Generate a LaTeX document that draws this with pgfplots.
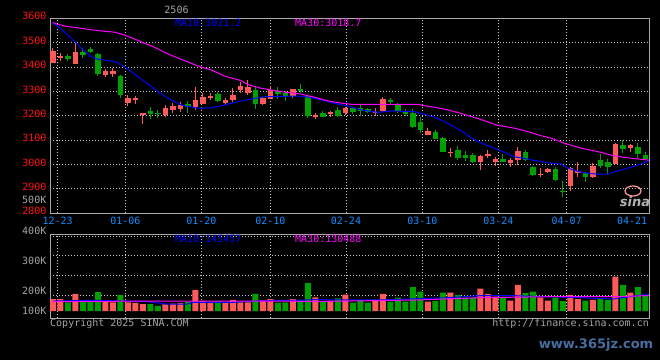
\documentclass[border=0pt]{standalone}
\usepackage{pgfplots}
\pgfplotsset{compat=1.18}
\usepackage{pgfplotstable}
\usepackage{fontspec}
\newfontfamily\sinafont{DejaVu Sans Mono}
\newfontfamily\wmfont{DejaVu Sans}
\newcommand{\st}{\sinafont\fontsize{10}{12}\selectfont}
\definecolor{cRed}{RGB}{255,90,90}
\definecolor{cGreen}{RGB}{0,160,0}
\definecolor{cBlue}{RGB}{0,0,255}
\definecolor{cMag}{RGB}{255,0,255}
\definecolor{cGrid}{RGB}{200,200,200}
\definecolor{cBorder}{RGB}{170,170,170}
\definecolor{cText}{RGB}{165,165,165}
\definecolor{cDate}{RGB}{20,140,255}
\definecolor{cPrice}{RGB}{255,20,20}
\definecolor{cWM}{RGB}{70,110,160}

\pgfplotstableread{
i o h l c
0 3418 3477 3416 3467
1 3440 3459 3426 3444
3 3412 3500 3412 3463
7 3367 3390 3358 3385
8 3372 3395 3358 3385
10 3254 3285 3241 3272
11 3267 3283 3247 3271
12 3203 3213 3166 3210
15 3205 3244 3196 3231
16 3222 3252 3213 3240
17 3228 3257 3215 3246
19 3238 3320 3224 3265
20 3248 3292 3248 3276
21 3275 3295 3265 3280
23 3253 3275 3244 3263
24 3264 3313 3258 3285
25 3305 3340 3292 3323
26 3293 3347 3285 3318
28 3249 3279 3244 3272
29 3269 3323 3268 3305
32 3283 3311 3275 3309
35 3198 3210 3186 3202
37 3206 3221 3194 3214
39 3210 3237 3205 3230
43 3213 3233 3200 3217
44 3218 3278 3215 3269
50 3122 3152 3120 3138
53 3048 3066 3032 3053
57 3010 3040 2977 3035
58 3037 3060 3025 3043
59 3009 3030 2993 3024
61 3005 3026 2990 3020
62 3020 3070 2998 3057
65 2958 2985 2948 2963
66 2970 2985 2966 2981
69 2914 2991 2890 2985
70 2969 3012 2950 2974
72 2950 3005 2945 2995
75 3003 3090 3002 3084
77 3067 3083 3050 3080
}\upc

\pgfplotstableread{
i o h l c
2 3447 3454 3426 3433
4 3463 3477 3438 3449
5 3474 3484 3456 3463
6 3454 3458 3363 3371
9 3364 3368 3272 3285
13 3219 3237 3186 3206
14 3213 3224 3192 3207
18 3248 3262 3210 3235
22 3290 3297 3258 3262
27 3306 3317 3228 3250
30 3300 3317 3268 3290
31 3295 3303 3262 3281
33 3308 3330 3292 3303
34 3280 3285 3192 3200
36 3213 3221 3194 3196
38 3224 3237 3196 3199
40 3231 3237 3206 3217
41 3233 3244 3200 3220
42 3228 3230 3212 3216
45 3266 3272 3248 3259
46 3248 3252 3213 3218
47 3221 3228 3200 3207
48 3211 3228 3149 3155
49 3173 3195 3130 3142
51 3135 3140 3103 3105
52 3110 3115 3050 3053
54 3060 3077 3019 3028
55 3041 3054 3015 3028
56 3038 3046 3005 3012
60 3022 3042 3009 3012
63 3052 3060 3015 3018
64 2991 2993 2952 2957
67 2980 2990 2933 2937
68 2893 2934 2868 2888
71 2964 2971 2930 2948
73 3019 3044 2985 2994
74 3009 3021 2960 2991
76 3079 3100 3046 3065
78 3071 3087 3027 3043
79 3039 3053 3020 3023
}\downc

\pgfplotstableread{
i v
0 100
1 100
3 142
7 86
8 72
10 72
11 67
12 58
15 56
16 61
17 67
19 175
20 83
21 78
23 72
24 92
25 72
26 72
28 89
29 100
32 100
35 114
37 86
39 136
43 92
44 142
50 78
53 153
57 186
58 142
59 119
61 86
62 217
65 111
66 86
69 133
70 100
72 92
75 286
77 153
}\upv

\pgfplotstableread{
i v
2 72
4 78
5 78
6 158
9 133
13 58
14 42
18 75
22 83
27 142
30 69
31 72
33 89
34 233
36 83
38 106
40 69
41 92
42 69
45 78
46 111
47 78
48 200
49 161
51 83
52 153
54 133
55 111
56 111
60 117
63 150
64 161
67 111
68 83
71 86
73 100
74 92
76 217
78 200
79 139
}\downv

\pgfplotsset{
  sinabase/.style={
    scale only axis, anchor=south west,
    xmin=-0.373, xmax=79.49,
    axis line style={draw=cBorder, line width=1pt},
    major tick length=0pt,
    grid=major,
    major grid style={draw=cGrid, line width=0.9pt, dash pattern=on 1pt off 2pt},
    xtick={0.65,9.67,19.8,29.0,39.09,49.27,59.4,68.52},
    tick label style={font=\st},
    clip=true,
  },
  wick/.style={draw=none, mark=none, forget plot,
    error bars/.cd, y dir=both, y explicit, error mark=none,
    error bar style={draw=#1, line width=1pt}},
  body/.style={draw=none, mark=none, forget plot,
    error bars/.cd, y dir=both, y explicit, error mark=none,
    error bar style={draw=#1, line width=5.5pt}},
}

\begin{document}
\begin{tikzpicture}
\useasboundingbox (0,0) rectangle (660pt,360pt);
\fill[black] (0,0) rectangle (660pt,360pt);

\begin{axis}[sinabase,
  at={(50pt,146.7pt)}, width=599pt, height=195pt,
  ymin=2800, ymax=3600,
  xticklabels={12-23,01-06,01-20,02-10,02-24,03-10,03-24,04-07},
  extra x ticks={77.23}, extra x tick labels={04-21},
  extra x tick style={grid=none},
  x tick label style={text=cDate},
  ytick={2800,2900,3000,3100,3200,3300,3400,3500,3600},
  yticklabels={2800,2900,3000,3100,3200,3300,3400,3500,3600},
  y tick label style={text=cPrice, yshift=2pt},
]
\addplot[wick=cRed] table[x=i, y expr={(\thisrow{h}+\thisrow{l})/2}, y error expr={(\thisrow{h}-\thisrow{l})/2}] {\upc};
\addplot[body=cRed] table[x=i, y expr={(\thisrow{o}+\thisrow{c})/2}, y error expr={abs(\thisrow{c}-\thisrow{o})/2}] {\upc};
\addplot[wick=cGreen] table[x=i, y expr={(\thisrow{h}+\thisrow{l})/2}, y error expr={(\thisrow{h}-\thisrow{l})/2}] {\downc};
\addplot[body=cGreen] table[x=i, y expr={(\thisrow{o}+\thisrow{c})/2}, y error expr={abs(\thisrow{c}-\thisrow{o})/2}] {\downc};
\addplot[cBlue, line width=1pt, mark=none] coordinates {
(0,3582) (1.13,3556) (2.47,3518) (3.8,3477) (5.13,3442) (6.03,3432) (7.8,3425) (8.69,3418)
(10.03,3391) (11.36,3360) (12.69,3330) (14.03,3299) (15.36,3272) (17.13,3244) (19.36,3231)
(21.13,3233) (22.92,3244) (24.69,3258) (26.47,3269) (28.07,3278) (30.73,3280) (32.7,3281)
(34.03,3277) (35.8,3265) (37.59,3251) (39.36,3240) (41.13,3224) (43.36,3214) (45.13,3220)
(48.25,3217) (49.59,3206) (50.92,3194) (52.25,3176) (53.23,3159) (54.47,3138) (56.25,3101)
(58.03,3077) (59.8,3056) (61.59,3032) (63.36,3022) (65.13,3012) (66.56,3005) (67.8,3002)
(68.69,2985) (70.47,2968) (72.69,2960) (74.03,2961) (74.92,2971) (77.13,2989) (78.92,3008)
(79.49,3018)};
\addplot[cMag, line width=1pt, mark=none] coordinates {
(0,3583) (0.69,3575) (2.03,3566) (3.36,3561) (4.69,3555) (6.47,3548) (8.25,3543) (9.59,3531)
(10.92,3515) (12.25,3497) (13.23,3486) (15.19,3456) (19.63,3401) (21.13,3388) (22.92,3363)
(25.13,3344) (26,3328) (27.8,3313) (30.47,3299) (33.13,3289) (34.92,3276) (36.69,3261)
(38.47,3252) (39.89,3247) (48.7,3247) (49.59,3241) (50.92,3235) (52.25,3227) (53.23,3220)
(54.73,3207) (56.96,3186) (59.19,3162) (61.59,3149) (63.36,3135) (65.13,3118) (66.47,3108)
(68.25,3087) (70.47,3067) (72.69,3053) (74.92,3035) (77.13,3026) (79.49,3018)};
\end{axis}

\begin{axis}[sinabase,
  at={(50pt,41.7pt)}, width=599pt, height=84pt,
  ymin=-60.8, ymax=639.2,
  xticklabels={},
  ytick={131,300,467,625}, yticklabels={},
]
\addplot[ybar, bar width=6pt, bar shift=0pt, fill=cRed, draw=none, forget plot] table[x=i, y=v] {\upv};
\addplot[ybar, bar width=6pt, bar shift=0pt, fill=cGreen, draw=none, forget plot] table[x=i, y=v] {\downv};
\addplot[cBlue, line width=1pt, mark=none] coordinates {
(0,83) (5.4,89) (12.6,78) (15.2,58) (17.9,58) (18.7,72) (24,72) (26.7,83) (33.9,92) (35.6,97)
(37,92) (43.6,92) (47.6,100) (52.5,111) (57,128) (61.4,128) (65.9,119) (70.3,111) (74.7,100)
(77,119) (79.49,142)};
\addplot[cMag, line width=1pt, mark=none] coordinates {
(0,78) (12.6,83) (37,81) (48.6,92) (57,111) (65.9,119) (74.7,119) (79.49,128)};
\end{axis}

% texts
\node[text=cText, font=\st] at (176.5pt,350.5pt) {2506};
\node[anchor=west, inner sep=0pt, text=cBlue, font=\st] at (175pt,336.7pt) {MA10:3021.2};
\node[anchor=west, inner sep=0pt, text=cMag, font=\st] at (295pt,336.7pt) {MA30:3018.7};
\node[anchor=west, inner sep=0pt, text=cBlue, font=\st] at (175pt,121.3pt) {MA10:145457};
\node[anchor=west, inner sep=0pt, text=cMag, font=\st] at (295pt,121.3pt) {MA30:130488};
\node[anchor=east, inner sep=0pt, text=cText, font=\st] at (46.5pt,160pt) {500K};
\node[anchor=east, inner sep=0pt, text=cText, font=\st] at (46.5pt,129.3pt) {400K};
\node[anchor=east, inner sep=0pt, text=cText, font=\st] at (46.5pt,99.3pt) {300K};
\node[anchor=east, inner sep=0pt, text=cText, font=\st] at (46.5pt,69.3pt) {200K};
\node[anchor=east, inner sep=0pt, text=cText, font=\st] at (46.5pt,49pt) {100K};
\node[anchor=west, inner sep=0pt, text=cText, font=\st] at (50pt,36.3pt) {Copyright 2025 SINA.COM};
\node[anchor=east, inner sep=0pt, text=cText, font=\st] at (649pt,36.3pt) {http://finance.sina.com.cn};
\draw[draw=red!40!white, line width=1.2pt] (633pt,169pt) ellipse (8pt and 5pt);
\node[text=gray!60!white, font=\wmfont\bfseries\itshape\fontsize{13}{13}\selectfont] at (635pt,158.5pt) {sina};
\node[text=cWM, font=\wmfont\bfseries\fontsize{13}{13}\selectfont] at (596pt,15.5pt) {www.365jz.com};
\end{tikzpicture}
\end{document}
